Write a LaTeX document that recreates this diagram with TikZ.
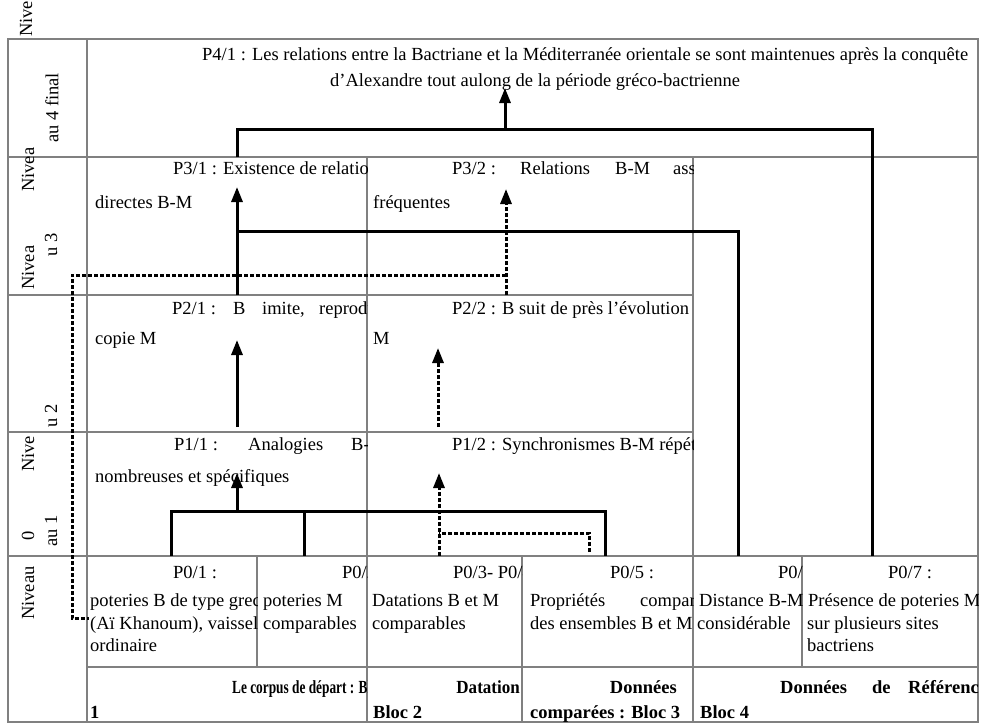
\documentclass[tikz,border=0pt]{standalone}
\usepackage{fontspec}
\setmainfont{Liberation Serif}
\usetikzlibrary{arrows.meta}
\begin{document}
\begin{tikzpicture}[x=1pt,y=-1pt,
  grid/.style={draw=gray, line width=1.3pt},
  conn/.style={draw=black, line width=3pt},
  dconn/.style={draw=black, line width=3pt, dash pattern=on 4pt off 2pt},
  arr/.style={-{Triangle[width=11pt,length=15pt]}},
  txt/.style={anchor=base west, inner sep=0pt, font=\fontsize{18.5}{22}\selectfont},
  rtxt/.style={anchor=base east, inner sep=0pt, font=\fontsize{18.5}{22}\selectfont},
  btxt/.style={anchor=base west, inner sep=0pt, font=\fontsize{18.5}{22}\selectfont\bfseries},
  brtxt/.style={anchor=base east, inner sep=0pt, font=\fontsize{18.5}{22}\selectfont\bfseries},
  vtxt/.style={anchor=west, inner sep=0pt, rotate=90, font=\fontsize{18.5}{22}\selectfont},
]
\useasboundingbox (0,0) rectangle (983,725);
\fill[white] (0,0) rectangle (983,725);

% ---------- grid ----------
\draw[grid] (8,39) rectangle (978,722);
\draw[grid] (87,39) -- (87,722);
\draw[grid] (8,157) -- (978,157);
\draw[grid] (8,295) -- (693,295);
\draw[grid] (8,432) -- (693,432);
\draw[grid] (8,556) -- (978,556);
\draw[grid] (87,667) -- (978,667);
\draw[grid] (367,157) -- (367,722);
\draw[grid] (693,157) -- (693,722);
\draw[grid] (257,556) -- (257,667);
\draw[grid] (522,556) -- (522,722);
\draw[grid] (802,556) -- (802,667);

% ---------- left labels ----------
\node[vtxt] (l1) at (26,37) {Nive};
\node[vtxt] (l2) at (52,143) {au 4 final};
\node[vtxt] (l3) at (28,192) {Nivea};
\node[vtxt] (l4) at (28,290) {Nivea};
\node[vtxt] (l5) at (51,257) {u 3};
\node[vtxt] (l6) at (28,472) {Nive};
\node[vtxt] (l7) at (51,428) {u 2};
\node[vtxt] (l8) at (28,620) {Niveau};
\node[vtxt] (l9) at (28,541) {0};
\node[vtxt] (l10) at (51,547) {au 1};

% ---------- level 4 ----------
\begin{scope}
\clip (87,39) rectangle (978,157);
\node[txt] (p41a) at (202,61) {P4/1 : Les relations entre la Bactriane et la Méditerranée orientale se sont maintenues après la conquête};
\node[txt] (p41b) at (330,86) {d’Alexandre tout aulong de la période gréco-bactrienne};
\end{scope}

% ---------- level 3 ----------
\begin{scope}
\clip (87,157) rectangle (367,295);
\node[txt] (p31a) at (173,174) {P3/1 : Existence de relations};
\node[txt] (p31b) at (95,208) {directes B-M};
\end{scope}
\begin{scope}
\clip (367,157) rectangle (693,295);
\node[txt] (p32a) at (452,174) {P3/2 :};
\node[txt] (p32c) at (520,174) {Relations};
\node[txt] (p32d) at (615,174) {B-M};
\node[txt] (p32e) at (673,174) {assez};
\node[txt] (p32b) at (373,208) {fréquentes};
\end{scope}

% ---------- level 2 ----------
\begin{scope}
\clip (87,295) rectangle (367,432);
\node[txt] (p21a) at (172,314) {P2/1 :};
\node[txt] (p21c) at (233,314) {B};
\node[txt] (p21d) at (262,314) {imite,};
\node[txt] (p21e) at (319,314) {reproduit};
\node[txt] (p21b) at (95,344) {copie M};
\end{scope}
\begin{scope}
\clip (367,295) rectangle (693,432);
\node[txt] (p22a) at (452,314) {P2/2 : B suit de près l’évolution};
\node[txt] (p22b) at (373,344) {M};
\end{scope}

% ---------- level 1 ----------
\begin{scope}
\clip (87,432) rectangle (367,556);
\node[txt] (p11a) at (174,450) {P1/1 :};
\node[txt] (p11c) at (248,450) {Analogies};
\node[txt] (p11d) at (351,450) {B-M};
\node[txt] (p11b) at (95,482) {nombreuses et spécifiques};
\end{scope}
\begin{scope}
\clip (367,432) rectangle (693,556);
\node[txt] (p12a) at (452,450) {P1/2 : Synchronismes B-M répétés};
\end{scope}

% ---------- level 0 ----------
\begin{scope}
\clip (87,556) rectangle (257,667);
\node[txt] (p01a) at (173,578) {P0/1 :};
\node[txt] (p01b) at (90,606) {poteries B de type grec};
\node[txt] (p01c) at (90,629) {(Aï Khanoum), vaisselle};
\node[txt] (p01d) at (90,651) {ordinaire};
\end{scope}
\begin{scope}
\clip (257,556) rectangle (367,667);
\node[txt] (p02a) at (342,578) {P0/2 :};
\node[txt] (p02b) at (263,606) {poteries M};
\node[txt] (p02c) at (263,629) {comparables};
\end{scope}
\begin{scope}
\clip (367,556) rectangle (522,667);
\node[txt] (p03a) at (453,578) {P0/3- P0/4 :};
\node[txt] (p03b) at (372,606) {Datations B et M};
\node[txt] (p03c) at (372,629) {comparables};
\end{scope}
\begin{scope}
\clip (522,556) rectangle (693,667);
\node[txt] (p05a) at (610,578) {P0/5 :};
\node[txt] (p05b) at (530,606) {Propriétés};
\node[txt] (p05c) at (640,606) {comparées};
\node[txt] (p05d) at (530,629) {des ensembles B et M};
\end{scope}
\begin{scope}
\clip (693,556) rectangle (802,667);
\node[txt] (p06a) at (778,578) {P0/6 :};
\node[txt] (p06b) at (699,606) {Distance B-M};
\node[txt] (p06c) at (697,629) {considérable};
\end{scope}
\begin{scope}
\clip (802,556) rectangle (978,667);
\node[txt] (p07a) at (888,578) {P0/7 :};
\node[txt] (p07b) at (808,606) {Présence de poteries M};
\node[txt] (p07c) at (807,629) {sur plusieurs sites};
\node[txt] (p07d) at (807,651) {bactriens};
\end{scope}

% ---------- bottom blocks ----------
\begin{scope}
\clip (87,667) rectangle (367,722);
\node[btxt] (bl1a) at (232,693) {\scalebox{0.72}[1]{Le corpus de départ : Bloc 1}};
\node[btxt] (bl1b) at (90,718) {1};
\end{scope}
\begin{scope}
\clip (367,667) rectangle (522,722);
\node[brtxt] (bl2a) at (520,693) {\scalebox{0.92}[1]{Datation}};
\node[btxt] (bl2b) at (373,718) {Bloc 2};
\end{scope}
\begin{scope}
\clip (522,667) rectangle (693,722);
\node[brtxt] (bl3a) at (677,693) {Données};
\node[btxt] (bl3b) at (530,718) {comparées : Bloc 3};
\end{scope}
\begin{scope}
\clip (693,667) rectangle (978,722);
\node[btxt] (bl4a) at (780,693) {Données};
\node[btxt] (bl4c) at (872,693) {de};
\node[btxt] (bl4d) at (908,693) {Référence};
\node[btxt] (bl4b) at (700,718) {Bloc 4};
\end{scope}

% ---------- connectors: level 4 ----------
\coordinate (a4tip) at (505,88);
\coordinate (a4base) at (505,129);
\coordinate (b4l) at (237,129);
\coordinate (b4r) at (872,129);
\coordinate (p31top) at (237,157);
\coordinate (p07top) at (872,556);
\draw[conn] (p31top) -- (b4l) -- (b4r) -- (p07top);
\draw[conn,arr] (a4base) -- (a4tip);

% ---------- connectors: level 3 ----------
\coordinate (a31tip) at (237,187);
\coordinate (a31base) at (237,295);
\draw[conn,arr] (a31base) -- (a31tip);
\coordinate (j3) at (237,231);
\coordinate (c3) at (738,231);
\coordinate (p06top) at (738,556);
\draw[conn] (j3) -- (c3) -- (p06top);
\coordinate (a32tip) at (506,189);
\coordinate (a32base) at (506,295);
\draw[dconn,arr] (a32base) -- (a32tip);
\coordinate (d3a) at (506,275);
\coordinate (d3b) at (72,275);
\coordinate (d3c) at (72,618);
\coordinate (p01left) at (89,618);
\draw[dconn] (d3a) -- (d3b) -- (d3c) -- (p01left);

% ---------- connectors: level 2 ----------
\coordinate (a21tip) at (237,340);
\coordinate (a21base) at (237,427);
\draw[conn,arr] (a21base) -- (a21tip);
\coordinate (a22tip) at (438,348);
\coordinate (a22base) at (438,427);
\draw[dconn,arr] (a22base) -- (a22tip);

% ---------- connectors: level 1 ----------
\coordinate (b1l) at (171,511);
\coordinate (b1m) at (304,511);
\coordinate (b1r) at (605,511);
\coordinate (p01top) at (171,556);
\coordinate (p02top) at (304,556);
\coordinate (p05top) at (605,556);
\draw[conn] (p01top) -- (b1l) -- (b1r) -- (p05top);
\draw[conn] (b1m) -- (p02top);
\coordinate (a11base) at (237,511);
\coordinate (a11tip) at (237,473);
\draw[conn,arr] (a11base) -- (a11tip);
\coordinate (p03top) at (439,556);
\coordinate (a12tip) at (439,473);
\draw[dconn,arr] (p03top) -- (a12tip);
\coordinate (p05dt) at (589,552);
\coordinate (d1a) at (589,533);
\coordinate (d1b) at (439,533);
\draw[dconn] (p05dt) -- (d1a) -- (d1b);
\end{tikzpicture}
\end{document}
